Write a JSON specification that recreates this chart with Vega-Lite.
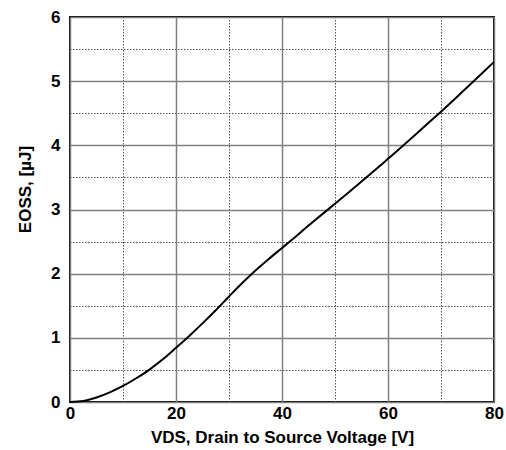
{
  "$schema": "https://vega.github.io/schema/vega-lite/v6.json",
  "width": 424,
  "height": 385,
  "autosize": {"type": "none"},
  "padding": {"left": 70, "top": 17, "right": 12, "bottom": 48},
  "background": "white",
  "config": {
    "view": {"stroke": "black", "strokeWidth": 2},
    "font": "Liberation Sans"
  },
  "data": {
    "values": [
      {"vds": 0, "eoss": 0},
      {"vds": 2.5, "eoss": 0.015},
      {"vds": 5, "eoss": 0.07},
      {"vds": 7.5, "eoss": 0.15},
      {"vds": 10, "eoss": 0.25},
      {"vds": 12.5, "eoss": 0.37},
      {"vds": 15, "eoss": 0.505},
      {"vds": 17.5, "eoss": 0.665},
      {"vds": 20, "eoss": 0.845},
      {"vds": 22.5, "eoss": 1.03},
      {"vds": 25, "eoss": 1.225},
      {"vds": 27.5, "eoss": 1.43},
      {"vds": 30, "eoss": 1.645},
      {"vds": 32.5, "eoss": 1.855},
      {"vds": 35, "eoss": 2.05},
      {"vds": 37.5, "eoss": 2.23},
      {"vds": 40, "eoss": 2.4},
      {"vds": 42.5, "eoss": 2.57},
      {"vds": 45, "eoss": 2.75},
      {"vds": 47.5, "eoss": 2.92},
      {"vds": 50, "eoss": 3.09},
      {"vds": 52.5, "eoss": 3.26},
      {"vds": 55, "eoss": 3.435},
      {"vds": 57.5, "eoss": 3.61},
      {"vds": 60, "eoss": 3.79},
      {"vds": 62.5, "eoss": 3.97},
      {"vds": 65, "eoss": 4.155},
      {"vds": 67.5, "eoss": 4.34},
      {"vds": 70, "eoss": 4.525},
      {"vds": 72.5, "eoss": 4.715},
      {"vds": 75, "eoss": 4.91},
      {"vds": 77.5, "eoss": 5.105},
      {"vds": 80, "eoss": 5.3}
    ]
  },
  "layer": [
    {
      "mark": {"type": "line", "opacity": 0},
      "encoding": {
        "x": {
          "field": "vds", "type": "quantitative",
          "scale": {"domain": [0, 80], "nice": false},
          "axis": {
            "orient": "top",
            "values": [10, 30, 50, 70], "labels": false, "ticks": false, "domain": false,
            "title": null, "grid": true, "gridColor": "#555555", "gridDash": [1.5, 1.5], "gridWidth": 1
          }
        },
        "y": {
          "field": "eoss", "type": "quantitative",
          "scale": {"domain": [0, 6], "nice": false},
          "axis": {
            "orient": "right",
            "values": [0.5, 1.5, 2.5, 3.5, 4.5, 5.5], "labels": false, "ticks": false, "domain": false,
            "title": null, "grid": true, "gridColor": "#555555", "gridDash": [1.5, 1.5], "gridWidth": 1
          }
        }
      }
    },
    {
      "mark": {"type": "line", "color": "black", "strokeWidth": 2, "interpolate": "monotone"},
      "encoding": {
        "x": {
          "field": "vds", "type": "quantitative",
          "scale": {"domain": [0, 80], "nice": false},
          "axis": {
            "orient": "bottom",
            "values": [0, 20, 40, 60, 80], "ticks": false, "domain": false,
            "grid": true, "gridColor": "#808080", "gridWidth": 1.5,
            "labelFont": "Liberation Sans", "labelFontWeight": "bold", "labelFontSize": 17, "labelColor": "black",
            "labelPadding": 3, "labelFlush": false,
            "title": "VDS, Drain to Source Voltage [V]",
            "titleFont": "Liberation Sans", "titleFontWeight": "bold", "titleFontSize": 17, "titleColor": "black",
            "titlePadding": 8
          }
        },
        "y": {
          "field": "eoss", "type": "quantitative",
          "scale": {"domain": [0, 6], "nice": false},
          "axis": {
            "orient": "left",
            "values": [0, 1, 2, 3, 4, 5, 6], "ticks": false, "domain": false,
            "grid": true, "gridColor": "#808080", "gridWidth": 1.5,
            "labelFont": "Liberation Sans", "labelFontWeight": "bold", "labelFontSize": 17, "labelColor": "black",
            "labelPadding": 10, "labelFlush": false,
            "title": "EOSS, [µJ]",
            "titleFont": "Liberation Sans", "titleFontWeight": "bold", "titleFontSize": 17, "titleColor": "black",
            "titlePadding": 16,
            "titleY": 172
          }
        }
      }
    }
  ],
  "resolve": {"axis": {"x": "independent", "y": "independent"}}
}
